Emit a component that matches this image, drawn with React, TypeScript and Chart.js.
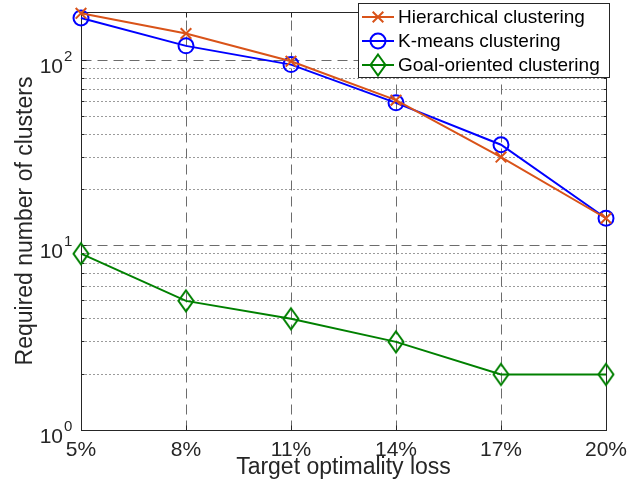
import React, { useEffect, useRef } from 'react';
import { Chart, registerables } from 'chart.js';

Chart.register(...registerables);

// ---- data ----
const categories = [5, 8, 11, 14, 17, 20];
const hierarchical = [180, 140, 99, 61, 30, 14];
const kmeans = [170, 120, 95, 59, 35, 14];
const goalOriented = [9, 5, 4, 3, 2, 2];
const seriesLabels = ['Hierarchical clustering', 'K-means clustering', 'Goal-oriented clustering'];
const seriesColors = ['#D95319', '#0000FF', '#008000'];
const yTickExponents = [0, 1, 2];
const xTitle = 'Target optimality loss';
const yTitle = 'Required number of clusters';

const FONT = '"Liberation Sans", Arial, Helvetica, sans-serif';
const TEXT = '#262626';

function makeDiamond(color: string): HTMLCanvasElement {
  const c = document.createElement('canvas');
  c.width = 20;
  c.height = 26;
  const g = c.getContext('2d')!;
  g.strokeStyle = color;
  g.lineWidth = 2;
  g.beginPath();
  g.moveTo(10, 2.5);
  g.lineTo(17.5, 13);
  g.lineTo(10, 23.5);
  g.lineTo(2.5, 13);
  g.closePath();
  g.stroke();
  return c;
}

function drawMarker(ctx: CanvasRenderingContext2D, idx: number, cx: number, cy: number, diamond: HTMLCanvasElement) {
  const col = seriesColors[idx];
  ctx.save();
  ctx.strokeStyle = col;
  ctx.lineWidth = 2;
  ctx.setLineDash([]);
  if (idx === 0) {
    const r = 7.5 * Math.SQRT1_2;
    ctx.beginPath();
    ctx.moveTo(cx - r, cy - r);
    ctx.lineTo(cx + r, cy + r);
    ctx.moveTo(cx - r, cy + r);
    ctx.lineTo(cx + r, cy - r);
    ctx.stroke();
  } else if (idx === 1) {
    ctx.beginPath();
    ctx.arc(cx, cy, 7.5, 0, Math.PI * 2);
    ctx.stroke();
  } else {
    ctx.drawImage(diamond, cx - diamond.width / 2, cy - diamond.height / 2);
  }
  ctx.restore();
}

export default function App() {
  const ref = useRef<HTMLCanvasElement | null>(null);

  useEffect(() => {
    const canvas = ref.current;
    if (!canvas) return;
    const diamond = makeDiamond(seriesColors[2]);

    const decor = {
      id: 'matlabDecor',
      beforeDatasetsDraw(chart: any) {
        const { ctx, chartArea: a, scales } = chart;
        const x = scales.x;
        const y = scales.y;
        const L = Math.floor(a.left) + 0.5;
        const R = Math.floor(a.right) + 0.5;
        const T = Math.floor(a.top) + 0.5;
        const B = Math.floor(a.bottom) + 0.5;
        ctx.save();
        // minor dotted grid
        ctx.lineWidth = 1;
        ctx.strokeStyle = 'rgba(20,20,20,0.85)';
        ctx.setLineDash([1, 3]);
        for (const d of [1, 10, 100]) {
          for (let k = 2; k <= 9; k++) {
            const v = d * k;
            if (v >= y.max) continue;
            const py = Math.floor(y.getPixelForValue(v)) + 0.5;
            ctx.beginPath();
            ctx.moveTo(L, py);
            ctx.lineTo(R, py);
            ctx.stroke();
          }
        }
        // major dashed grid
        ctx.strokeStyle = '#6c6c6c';
        ctx.setLineDash([10, 6]);
        for (const e of yTickExponents) {
          const v = Math.pow(10, e);
          if (v <= y.min) continue;
          const py = Math.floor(y.getPixelForValue(v)) + 0.5;
          ctx.beginPath();
          ctx.moveTo(L, py);
          ctx.lineTo(R, py);
          ctx.stroke();
        }
        for (const xv of categories.slice(1, -1)) {
          const px = Math.floor(x.getPixelForValue(xv)) + 0.5;
          ctx.beginPath();
          ctx.moveTo(px, B);
          ctx.lineTo(px, T);
          ctx.stroke();
        }
        ctx.setLineDash([]);
        // tick marks (inside)
        ctx.strokeStyle = TEXT;
        for (const xv of categories) {
          const px = Math.floor(x.getPixelForValue(xv)) + 0.5;
          ctx.beginPath();
          ctx.moveTo(px, B);
          ctx.lineTo(px, B - 5);
          ctx.moveTo(px, T);
          ctx.lineTo(px, T + 5);
          ctx.stroke();
        }
        for (const d of [1, 10, 100]) {
          for (let k = 1; k <= 9; k++) {
            const v = d * k;
            if (v >= y.max) continue;
            const len = k === 1 ? 5 : 3;
            const py = Math.floor(y.getPixelForValue(v)) + 0.5;
            ctx.beginPath();
            ctx.moveTo(L, py);
            ctx.lineTo(L + len, py);
            ctx.moveTo(R, py);
            ctx.lineTo(R - len, py);
            ctx.stroke();
          }
        }
        // frame
        ctx.lineWidth = 1;
        ctx.strokeStyle = TEXT;
        ctx.strokeRect(L, T, R - L, B - T);
        // y tick labels 10^n
        ctx.fillStyle = TEXT;
        for (const e of yTickExponents) {
          const py = y.getPixelForValue(Math.pow(10, e));
          ctx.font = `21px ${FONT}`;
          ctx.textAlign = 'right';
          ctx.textBaseline = 'alphabetic';
          ctx.fillText('10', 63, py + 13);
          ctx.font = `15px ${FONT}`;
          ctx.textAlign = 'left';
          ctx.fillText(String(e), 64, py + 1);
        }
        ctx.restore();
      },
      afterDatasetsDraw(chart: any) {
        const { ctx } = chart;
        ctx.save();
        const bx = 358.5, by = 3.5, bw = 251, bh = 74;
        ctx.fillStyle = '#ffffff';
        ctx.fillRect(bx, by, bw, bh);
        ctx.strokeStyle = TEXT;
        ctx.lineWidth = 1;
        ctx.setLineDash([]);
        ctx.strokeRect(bx, by, bw, bh);
        const rows = [17, 41, 65];
        seriesLabels.forEach((lab, i) => {
          const ry = rows[i];
          ctx.strokeStyle = seriesColors[i];
          ctx.lineWidth = 2;
          ctx.beginPath();
          ctx.moveTo(362, ry);
          ctx.lineTo(394, ry);
          ctx.stroke();
          drawMarker(ctx, i, 378, ry, diamond);
          ctx.fillStyle = '#000000';
          ctx.font = `19px ${FONT}`;
          ctx.textAlign = 'left';
          ctx.textBaseline = 'middle';
          ctx.fillText(lab, 398, ry + 1);
        });
        ctx.restore();
      },
    };

    const mk = (vals: number[]) => categories.map((c, i) => ({ x: c, y: vals[i] }));

    const chart = new Chart(canvas, {
      type: 'line',
      data: {
        datasets: [
          {
            label: seriesLabels[0],
            data: mk(hierarchical),
            borderColor: seriesColors[0],
            backgroundColor: seriesColors[0],
            borderWidth: 2,
            pointStyle: 'crossRot',
            pointRadius: 7.5,
            pointBorderWidth: 2,
            pointBorderColor: seriesColors[0],
            pointBackgroundColor: 'rgba(0,0,0,0)',
            clip: false,
            tension: 0,
            fill: false,
          },
          {
            label: seriesLabels[1],
            data: mk(kmeans),
            borderColor: seriesColors[1],
            backgroundColor: seriesColors[1],
            borderWidth: 2,
            pointStyle: 'circle',
            pointRadius: 7.5,
            pointBorderWidth: 2,
            pointBorderColor: seriesColors[1],
            pointBackgroundColor: 'rgba(0,0,0,0)',
            clip: false,
            tension: 0,
            fill: false,
          },
          {
            label: seriesLabels[2],
            data: mk(goalOriented),
            borderColor: seriesColors[2],
            backgroundColor: seriesColors[2],
            borderWidth: 2,
            pointStyle: diamond,
            pointRadius: 10,
            pointBorderWidth: 2,
            pointBorderColor: seriesColors[2],
            pointBackgroundColor: 'rgba(0,0,0,0)',
            clip: false,
            tension: 0,
            fill: false,
          },
        ],
      } as any,
      options: {
        responsive: false,
        animation: false,
        devicePixelRatio: 1,
        layout: { padding: { left: 0, right: 38, top: 7, bottom: 0 } },
        plugins: { legend: { display: false }, tooltip: { enabled: false } },
        events: [],
        scales: {
          x: {
            type: 'linear',
            min: 5,
            max: 20,
            afterBuildTicks: (s: any) => {
              s.ticks = categories.map((v) => ({ value: v }));
            },
            afterFit: (s: any) => {
              s.height = 66;
            },
            ticks: {
              callback: (v: any) => `${v}%`,
              font: { family: FONT, size: 21 },
              color: TEXT,
              padding: 8,
              maxRotation: 0,
              autoSkip: false,
            },
            grid: { display: false, drawTicks: false },
            border: { display: false },
            title: {
              display: true,
              text: xTitle,
              font: { family: FONT, size: 23 },
              color: TEXT,
              padding: { top: 15, bottom: 15 },
            },
          },
          y: {
            type: 'logarithmic',
            min: 1,
            max: 183,
            afterFit: (s: any) => {
              s.width = 81;
            },
            ticks: { display: false },
            grid: { display: false, drawTicks: false },
            border: { display: false },
            title: {
              display: true,
              text: yTitle,
              font: { family: FONT, size: 23 },
              color: TEXT,
              padding: { top: 12, bottom: 12 },
            },
          },
        },
      } as any,
      plugins: [decor],
    });

    return () => chart.destroy();
  }, []);

  return (
    <div style={{ position: 'fixed', left: 0, top: 0, width: 644, height: 496, background: '#fff' }}>
      <canvas ref={ref} width={644} height={496} style={{ display: 'block' }} />
    </div>
  );
}
